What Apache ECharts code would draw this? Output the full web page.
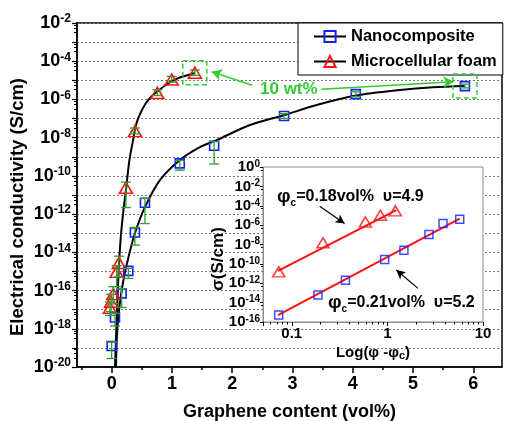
<!DOCTYPE html>
<html>
<head>
<meta charset="utf-8">
<script src="https://cdn.jsdelivr.net/npm/echarts@6/dist/echarts.min.js"></script>
<style>
  html, body { margin: 0; padding: 0; background: #fff; }
  #chart { width: 505px; height: 421px; }
</style>
</head>
<body>
<div id="chart"></div>
<script>
// ---- main panel: conductivity vs graphene content ----
var nanoX = [0, 0.055, 0.165, 0.276, 0.386, 0.552, 1.13, 1.70, 2.86, 4.05, 5.86];
var nanoY = [1.26e-19, 3.9e-18, 7.1e-17, 1.07e-15, 1.1e-13, 3.9e-12, 4.5e-10, 3.8e-9, 1.35e-7, 1.9e-6, 5.0e-6];
var nanoLow = [2.8e-20, 1.4e-18, 1.3e-17, 4.3e-16, 2.4e-14, 3.2e-13, 2.0e-10, 4.2e-10, 1.0e-7, 1.4e-6, 4.0e-6];
var nanoHigh = [2.0e-19, 6.3e-18, 1.26e-16, 1.45e-15, 2.0e-13, 6.6e-12, 6.3e-10, 6.2e-9, 1.8e-7, 2.5e-6, 6.3e-6];

var foamX = [-0.028, -0.01, 0.027, 0.083, 0.12, 0.237, 0.387, 0.757, 0.995, 1.38];
var foamY = [1.26e-17, 2.6e-17, 6.5e-17, 9.5e-16, 2.8e-15, 2.4e-11, 2.2e-8, 2.2e-6, 1.1e-5, 2.5e-5];
var foamLow = [5e-18, 8e-18, 2e-17, 1.6e-16, 5.2e-16, 2.2e-12, 1.6e-8, 1.6e-6, 8e-6, 1.8e-5];
var foamHigh = [2.5e-17, 6.3e-17, 1.6e-16, 2e-15, 6.3e-15, 4.7e-11, 3.2e-8, 3.2e-6, 1.6e-5, 3.5e-5];

// fitted curves
var nanoCurveX = [0.071, 0.088, 0.113, 0.154, 0.212, 0.279, 0.386, 0.552, 0.801, 1.133, 1.464, 1.741, 2.294, 2.857, 3.40, 4.05, 4.78, 5.33, 5.86];
var nanoCurveY = [1e-20, 4.6e-19, 5.1e-18, 5.8e-17, 6.5e-16, 5.6e-15, 1.0e-13, 2.3e-12, 6.0e-11, 6.8e-10, 3.2e-9, 7.4e-9, 4.6e-8, 1.5e-7, 5.1e-7, 1.6e-6, 3.1e-6, 4.3e-6, 5.0e-6];
var foamCurveX = [0.055, 0.071, 0.096, 0.121, 0.154, 0.196, 0.237, 0.295, 0.355, 0.403, 0.469, 0.569, 0.668, 0.768, 0.884, 1.0, 1.13, 1.27, 1.38];
var foamCurveY = [1e-20, 2.5e-19, 3.2e-17, 2.1e-15, 7.9e-14, 1.6e-12, 1.8e-11, 6.8e-10, 7.4e-9, 4.6e-8, 1.7e-7, 6.5e-7, 1.5e-6, 2.75e-6, 5.4e-6, 9.1e-6, 1.4e-5, 1.9e-5, 2.4e-5];

var xMainLabels = [0, 1, 2, 3, 4, 5, 6];
var xMainMinor = [-0.5, 0.5, 1.5, 2.5, 3.5, 4.5, 5.5];

// ---- inset: log-log percolation fit ----
var inFoamX = [0.073, 0.212, 0.589, 0.846, 1.21];
var inFoamY = [1.5e-11, 1.5e-8, 2.1e-6, 1.05e-5, 2.95e-5];
var inNanoX = [0.073, 0.188, 0.364, 0.937, 1.49, 2.72, 3.82, 5.71];
var inNanoY = [5.2e-16, 6e-14, 2.1e-12, 2.9e-10, 2.6e-9, 1.1e-7, 1.5e-6, 4.1e-6];
var fitFoamX = [0.0718, 1.24];
var fitFoamY = [1.9e-11, 3.5e-5];
var fitNanoX = [0.0718, 5.71];
var fitNanoY = [5.2e-16, 4.8e-6];
var inXMinor = [0.06, 0.07, 0.08, 0.09, 0.2, 0.3, 0.4, 0.5, 0.6, 0.7, 0.8, 0.9, 2, 3, 4, 5, 6, 7, 8, 9];

var FONT = '"Liberation Sans", Arial, sans-serif';
var GREEN = '#2f9f2f';
var LIME = '#33cc33';
var BLUE = '#1020ff';
var RED = '#ff1010';

function pairs(xs, ys) { return xs.map(function (x, i) { return [x, ys[i]]; }); }
function bars(xs, lo, hi) { return xs.map(function (x, i) { return [x, lo[i], hi[i]]; }); }
function decade(v) {
  var e = Math.log(v) / Math.LN10;
  return Math.abs(e - Math.round(e)) < 1e-6 ? Math.round(e) : null;
}

function errorItem(params, api) {
  var x = api.value(0);
  var lo = api.coord([x, api.value(1)]);
  var hi = api.coord([x, api.value(2)]);
  var w = 5;
  var st = { stroke: GREEN, lineWidth: 1.3 };
  return {
    type: 'group',
    children: [
      { type: 'line', shape: { x1: lo[0], y1: lo[1], x2: hi[0], y2: hi[1] }, style: st },
      { type: 'line', shape: { x1: lo[0] - w, y1: lo[1], x2: lo[0] + w, y2: lo[1] }, style: st },
      { type: 'line', shape: { x1: hi[0] - w, y1: hi[1], x2: hi[0] + w, y2: hi[1] }, style: st }
    ]
  };
}

var chart = echarts.init(document.getElementById('chart'));

chart.setOption({
  animation: false,
  textStyle: { fontFamily: FONT },
  legend: {
    orient: 'vertical',
    left: 298,
    top: 23,
    padding: [5, 6, 5, 15],
    itemGap: 8,
    itemWidth: 32,
    itemHeight: 14,
    backgroundColor: '#fff',
    borderColor: '#000',
    borderWidth: 1,
    textStyle: { fontSize: 16.5, fontWeight: 'bold', color: '#000', fontFamily: FONT },
    lineStyle: { color: '#000', width: 2, opacity: 1 },
    data: ['Nanocomposite', 'Microcellular foam']
  },
  grid: [
    { left: 77, top: 23, right: 3, bottom: 54, show: true, borderColor: '#000', borderWidth: 1.5,
      outerBoundsMode: 'none' },
    { left: 263, top: 167, right: 22, bottom: 99, show: true, z: 1, outerBoundsMode: 'none',
      backgroundColor: '#fff', borderColor: '#8a8a8a', borderWidth: 1 }
  ],
  xAxis: [
    {
      type: 'value', gridIndex: 0, min: -0.575, max: 6.475,
      name: 'Graphene content (vol%)', nameLocation: 'middle', nameGap: 36,
      nameTextStyle: { fontSize: 18, fontWeight: 'bold', color: '#000', fontFamily: FONT },
      axisLine: { onZero: false, lineStyle: { color: '#000', width: 1.5 } },
      axisTick: { customValues: xMainLabels, length: 6, lineStyle: { color: '#000', width: 1.5 } },
      axisLabel: { customValues: xMainLabels, fontSize: 18, fontWeight: 'bold', color: '#000', margin: 8 },
      splitLine: { show: false }
    },
    {
      type: 'value', gridIndex: 0, min: -0.575, max: 6.475, position: 'bottom',
      axisLine: { show: false, onZero: false },
      axisTick: { customValues: xMainMinor, length: 3, lineStyle: { color: '#000', width: 1.5 } },
      axisLabel: { show: false },
      splitLine: { show: false }
    },
    {
      type: 'log', logBase: 10, gridIndex: 1, min: 0.05, max: 10, z: 2,
      name: 'Log(φ -φ{s|c})', nameLocation: 'middle', nameGap: 22,
      nameTextStyle: {
        fontSize: 15, fontWeight: 'bold', color: '#000', fontFamily: FONT,
        rich: { s: { fontSize: 11, fontWeight: 'bold', verticalAlign: 'bottom', padding: [6, 0, 0, 0] } }
      },
      axisLine: { onZero: false, lineStyle: { color: '#8a8a8a', width: 1 } },
      axisTick: { length: 4, lineStyle: { color: '#000' } },
      axisLabel: {
        fontSize: 15, fontWeight: 'bold', color: '#000', margin: 4,
        formatter: function (v) {
          var e = decade(v);
          if (e === null) return '';
          return e < 0 ? '0.1' : (e === 0 ? '1' : '10');
        }
      },
      splitLine: { show: false }
    },
    {
      type: 'log', logBase: 10, gridIndex: 1, min: 0.05, max: 10, z: 2, position: 'bottom',
      axisLine: { show: false, onZero: false },
      axisTick: { customValues: inXMinor, length: 2.5, lineStyle: { color: '#000' } },
      axisLabel: { show: false },
      splitLine: { show: false }
    }
  ],
  yAxis: [
    {
      type: 'log', logBase: 10, gridIndex: 0, min: 1e-20, max: 1e-2, interval: 1,
      axisLine: { onZero: false, lineStyle: { color: '#000', width: 1.5 } },
      axisTick: { length: 5, lineStyle: { color: '#000', width: 1.2 } },
      minorTick: { show: true, splitNumber: 4, length: 3, lineStyle: { color: '#000', width: 1 } },
      axisLabel: {
        margin: 6,
        formatter: function (v) {
          var e = decade(v);
          if (e === null || e % 2 !== 0) return '';
          return '{b|10}{s|' + e + '}';
        },
        rich: {
          b: { fontSize: 18, fontWeight: 'bold', color: '#000', fontFamily: FONT, lineHeight: 20 },
          s: { fontSize: 12, fontWeight: 'bold', color: '#000', fontFamily: FONT, verticalAlign: 'top', lineHeight: 12 }
        }
      },
      splitLine: { show: true, lineStyle: { color: '#777', type: [2, 2], width: 1 } }
    },
    {
      type: 'log', logBase: 10, gridIndex: 1, min: 1e-16, max: 1, interval: 2, z: 2,
      axisLine: { onZero: false, lineStyle: { color: '#8a8a8a', width: 1 } },
      axisTick: { length: 3, lineStyle: { color: '#000' } },
      minorTick: { show: true, splitNumber: 2, length: 2, lineStyle: { color: '#000' } },
      axisLabel: {
        margin: 3,
        formatter: function (v) {
          var e = decade(v);
          if (e === null) return '';
          return '{b|10}{s|' + e + '}';
        },
        rich: {
          b: { fontSize: 15, fontWeight: 'bold', color: '#000', fontFamily: FONT, lineHeight: 16 },
          s: { fontSize: 10, fontWeight: 'bold', color: '#000', fontFamily: FONT, verticalAlign: 'top', lineHeight: 10 }
        }
      },
      splitLine: { show: false }
    }
  ],
  series: [
    {
      name: 'nanoCurve', type: 'line', xAxisIndex: 0, yAxisIndex: 0, smooth: 0.3,
      showSymbol: false, silent: true, z: 2,
      lineStyle: { color: '#000', width: 2 },
      data: pairs(nanoCurveX, nanoCurveY)
    },
    {
      name: 'foamCurve', type: 'line', xAxisIndex: 0, yAxisIndex: 0, smooth: 0.3,
      showSymbol: false, silent: true, z: 2,
      lineStyle: { color: '#000', width: 2 },
      data: pairs(foamCurveX, foamCurveY)
    },
    {
      name: 'Nanocomposite', type: 'line', xAxisIndex: 0, yAxisIndex: 0, z: 3,
      symbol: 'rect', symbolSize: 9,
      lineStyle: { opacity: 0 },
      itemStyle: { color: 'rgba(255,255,255,0)', borderColor: BLUE, borderWidth: 1.6 },
      emphasis: { disabled: true },
      data: pairs(nanoX, nanoY)
    },
    {
      name: 'Microcellular foam', type: 'line', xAxisIndex: 0, yAxisIndex: 0, z: 3,
      symbol: 'triangle', symbolSize: [13, 11],
      lineStyle: { opacity: 0 },
      itemStyle: { color: 'rgba(255,255,255,0)', borderColor: RED, borderWidth: 1.6 },
      emphasis: { disabled: true },
      data: pairs(foamX, foamY),
      markLine: {
        silent: true, symbol: ['none', 'arrow'], symbolSize: [9, 10],
        label: { show: false },
        lineStyle: { color: LIME, width: 1.6, type: 'solid' },
        data: [
          [{ coord: [2.33, 5.6e-6] }, { coord: [1.66, 2.8e-5] }],
          [{ coord: [3.48, 3.4e-6] }, { coord: [5.67, 8.5e-6] }]
        ]
      }
    },
    {
      name: 'nanoErr', type: 'custom', xAxisIndex: 0, yAxisIndex: 0, z: 4, silent: true,
      renderItem: errorItem, encode: { x: 0, y: [1, 2] },
      data: bars(nanoX, nanoLow, nanoHigh)
    },
    {
      name: 'foamErr', type: 'custom', xAxisIndex: 0, yAxisIndex: 0, z: 4, silent: true,
      renderItem: errorItem, encode: { x: 0, y: [1, 2] },
      data: bars(foamX, foamLow, foamHigh)
    },
    {
      name: 'fitFoam', type: 'line', xAxisIndex: 2, yAxisIndex: 1, z: 5, silent: true,
      showSymbol: false, lineStyle: { color: RED, width: 2 },
      data: pairs(fitFoamX, fitFoamY),
      markLine: {
        silent: true, symbol: ['none', 'arrow'], symbolSize: [7, 9],
        label: { show: false },
        lineStyle: { color: '#000', width: 1.2, type: 'solid' },
        data: [
          [{ coord: [0.196, 8.9e-5] }, { coord: [0.357, 1.5e-6] }],
          [{ coord: [2.09, 2.95e-13] }, { coord: [1.24, 2.3e-11] }]
        ]
      }
    },
    {
      name: 'fitNano', type: 'line', xAxisIndex: 2, yAxisIndex: 1, z: 5, silent: true,
      showSymbol: false, lineStyle: { color: RED, width: 2 },
      data: pairs(fitNanoX, fitNanoY)
    },
    {
      name: 'inFoam', type: 'scatter', xAxisIndex: 2, yAxisIndex: 1, z: 6, silent: true,
      symbol: 'triangle', symbolSize: [12, 10],
      itemStyle: { color: 'rgba(255,255,255,0)', borderColor: RED, borderWidth: 1.6 },
      data: pairs(inFoamX, inFoamY)
    },
    {
      name: 'inNano', type: 'scatter', xAxisIndex: 2, yAxisIndex: 1, z: 6, silent: true,
      symbol: 'rect', symbolSize: 8,
      itemStyle: { color: 'rgba(255,255,255,0)', borderColor: BLUE, borderWidth: 1.5 },
      data: pairs(inNanoX, inNanoY)
    }
  ],
  graphic: [
    // axis titles
    {
      type: 'text', x: 18, y: 207, rotation: Math.PI / 2, z: 10,
      style: { text: 'Electrical conductivity (S/cm)', font: 'bold 18.5px ' + FONT, fill: '#000',
        textAlign: 'center', textVerticalAlign: 'middle' }
    },
    {
      type: 'text', x: 218, y: 259, rotation: Math.PI / 2, z: 10,
      style: { text: 'σ(S/cm)', font: 'bold 17px ' + FONT, fill: '#000',
        textAlign: 'center', textVerticalAlign: 'middle' }
    },
    {
      type: 'text', x: 260, y: 89, z: 10,
      style: { text: '10 wt%', fill: LIME, font: 'bold 17px ' + FONT, textVerticalAlign: 'middle' }
    },
    {
      type: 'text', x: 277, y: 197, z: 10,
      style: {
        text: '{p|φ}{c|c}{t|=0.18vol%  υ=4.9}', textVerticalAlign: 'middle',
        rich: {
          p: { fontSize: 19, fontWeight: 'bold', fill: '#000', fontFamily: FONT, lineHeight: 22 },
          c: { fontSize: 10, fontWeight: 'bold', fill: '#000', fontFamily: FONT, verticalAlign: 'bottom', lineHeight: 10 },
          t: { fontSize: 16, fontWeight: 'bold', fill: '#000', fontFamily: FONT, lineHeight: 22 }
        }
      }
    },
    {
      type: 'text', x: 328, y: 303, z: 10,
      style: {
        text: '{p|φ}{c|c}{t|=0.21vol%  υ=5.2}', textVerticalAlign: 'middle',
        rich: {
          p: { fontSize: 19, fontWeight: 'bold', fill: '#000', fontFamily: FONT, lineHeight: 22 },
          c: { fontSize: 10, fontWeight: 'bold', fill: '#000', fontFamily: FONT, verticalAlign: 'bottom', lineHeight: 10 },
          t: { fontSize: 16, fontWeight: 'bold', fill: '#000', fontFamily: FONT, lineHeight: 22 }
        }
      }
    }
  ]
});

// dashed frames around the two 10 wt% samples
var marked = [
  [foamX[foamX.length - 1], foamY[foamY.length - 1]],
  [nanoX[nanoX.length - 1], nanoY[nanoY.length - 1]]
];
chart.setOption({
  graphic: marked.map(function (p, i) {
    var c = chart.convertToPixel({ xAxisIndex: 0, yAxisIndex: 0 }, p);
    return {
      id: 'box' + i, type: 'rect', z: 10, silent: true,
      shape: { x: c[0] - 12, y: c[1] - 12, width: 24, height: 24 },
      style: { fill: 'none', stroke: LIME, lineWidth: 1.5, lineDash: [5, 3] }
    };
  })
});
</script>
</body>
</html>
